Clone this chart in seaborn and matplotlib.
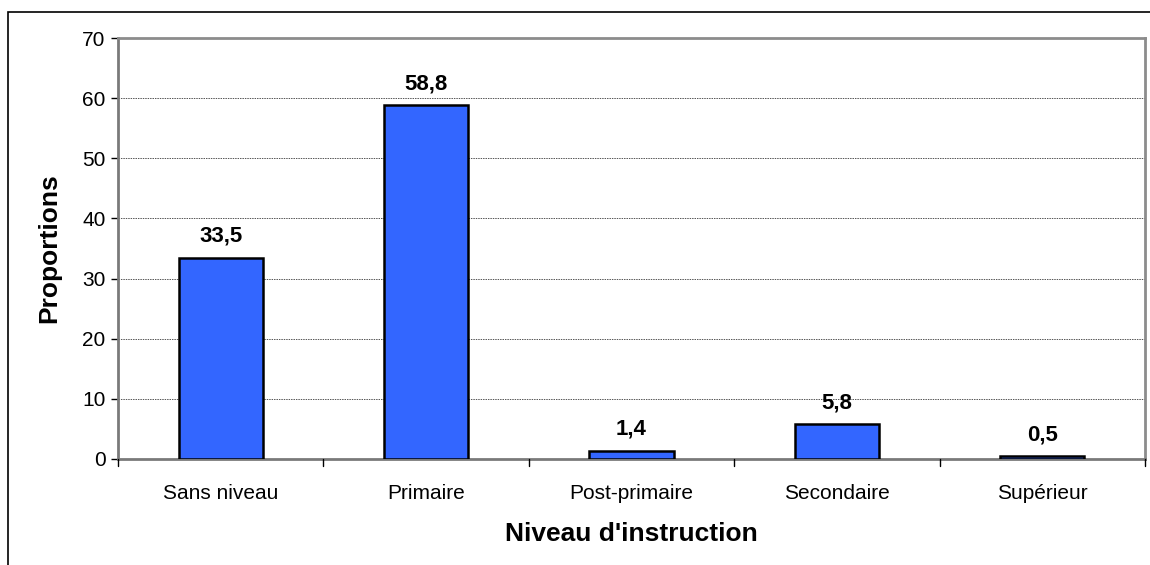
import matplotlib
matplotlib.use("Agg")
import matplotlib.pyplot as plt
import seaborn as sns
import pandas as pd
from matplotlib.patches import Rectangle

categories = ["Sans niveau", "Primaire", "Post-primaire", "Secondaire", "Supérieur"]
values = [33.5, 58.8, 1.4, 5.8, 0.5]
value_labels = ["33,5", "58,8", "1,4", "5,8", "0,5"]
y_ticks = [0, 10, 20, 30, 40, 50, 60, 70]

sns.set_theme(style="white")
plt.rcParams["font.family"] = ["Liberation Sans", "DejaVu Sans"]

df = pd.DataFrame({"niveau": categories, "prop": values})

W, H = 1150, 565
fig = plt.figure(figsize=(W / 100, H / 100), dpi=100)
fig.patch.set_facecolor("white")

# outer chart frame (runs off the right and bottom edges)
fig.add_artist(Rectangle((8 / W, -0.05), 1.2, 1 - 12 / H + 0.05,
                         transform=fig.transFigure, fill=False,
                         edgecolor="#000000", linewidth=1.2))

left, right, top, bottom = 118, 1145, 38, 459
ax = fig.add_axes([left / W, 1 - bottom / H, (right - left) / W, (bottom - top) / H])

sns.barplot(data=df, x="niveau", y="prop", ax=ax, color="#3366FF",
            saturation=1, width=0.41, edgecolor="black", linewidth=1.8,
            zorder=3)

ax.set_xlim(-0.5, len(categories) - 0.5)
ax.set_ylim(0, 70)
ax.set_yticks(y_ticks)
ax.set_yticklabels([str(t) for t in y_ticks], fontsize=15, color="black")
ax.set_xticks(range(len(categories)))
ax.set_xticklabels(categories, fontsize=15, color="black")
ax.tick_params(axis="x", length=0, pad=18)
ax.tick_params(axis="y", length=5, width=1, color="black", direction="out", left=True, pad=4)

# category boundary ticks below the axis
for b in [i - 0.5 for i in range(len(categories) + 1)]:
    ax.plot([b, b], [0, -1.2], color="black", linewidth=1, clip_on=False, zorder=4)

for yv in y_ticks[1:-1]:
    ax.axhline(yv, color="#555555", linewidth=0.7, linestyle=(0, (1.5, 1)), zorder=1)

for side in ["top", "right"]:
    ax.spines[side].set_color("#8c8c8c")
    ax.spines[side].set_linewidth(2)
ax.spines["bottom"].set_color("#7a7a7a")
ax.spines["bottom"].set_linewidth(2)
ax.spines["left"].set_color("#7a7a7a")
ax.spines["left"].set_linewidth(2)

for i, (v, lab) in enumerate(zip(values, value_labels)):
    ax.text(i, v + 1.8, lab, ha="center", va="bottom", fontsize=16,
            fontweight="bold", color="black")

ax.set_xlabel("Niveau d'instruction", fontsize=19, fontweight="bold",
              color="black", labelpad=14)
ax.set_ylabel("Proportions", fontsize=19, fontweight="bold", color="black",
              labelpad=15)

fig.savefig("out.png", dpi=100, facecolor="white")
